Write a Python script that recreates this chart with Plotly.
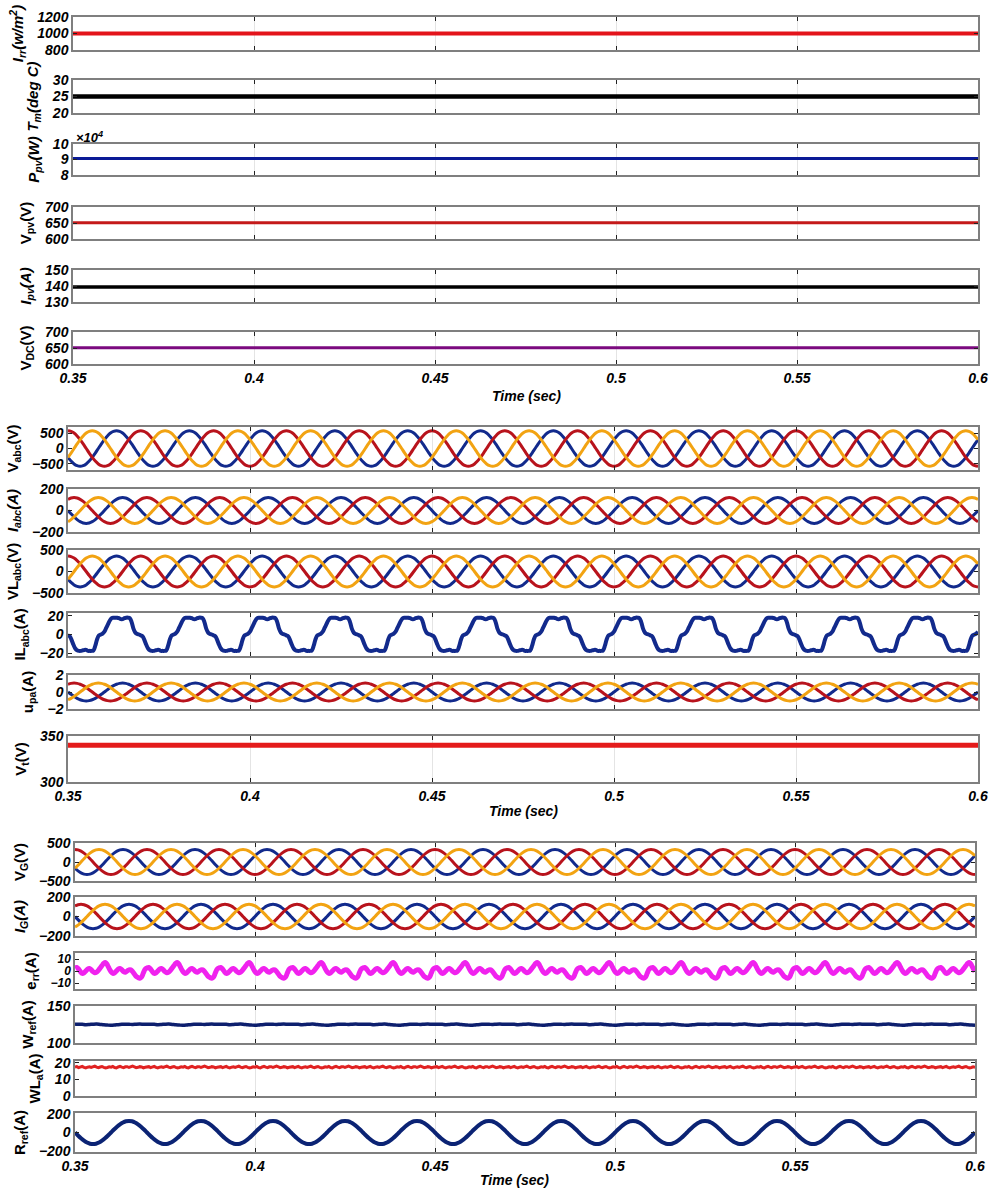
import plotly.graph_objects as go

W, H = 989, 1190
T_START, T_END = 0.35, 0.60
CYCLE_S = 0.02  # one 50 Hz cycle

TIME_TICKS = [0.35, 0.4, 0.45, 0.5, 0.55, 0.6]
TIME_TICK_TEXT = ['0.35', '0.4', '0.45', '0.5', '0.55', '0.6']

# ---------------- data ----------------
TIME_SPAN = [0.35, 0.60]
IRR_VALUES = [1000, 1000]
TM_VALUES = [25, 25]
PPV_VALUES = [90600, 90600]
VPV_VALUES = [651, 651]
IPV_VALUES = [139.3, 139.3]
VDC_VALUES = [651, 651]
VT_VALUES = [340, 340]

# one cycle of a unit sinusoid, 15-degree steps (shape of the 3-phase traces)
UNIT_CYCLE = [1.0, 0.966, 0.866, 0.707, 0.5, 0.259, 0.0, -0.259, -0.5, -0.707, -0.866, -0.966,
              -1.0, -0.966, -0.866, -0.707, -0.5, -0.259, 0.0, 0.259, 0.5, 0.707, 0.866, 0.966]

# amplitudes
V_ABC_AMP = 580
I_ABC_AMP = 120
VL_ABC_AMP = 360
U_PA_AMP = 1.05
V_G_AMP = 330
I_G_AMP = 125
R_REF_AMP = 125

# phase offsets (in 15-degree samples) of phases a (blue), b (red), c (orange)
V_PHASES = [8, 0, 16]
I_PHASES = [6, 22, 14]
R_REF_PHASE = 6

# one cycle of IL_abc, 0.5 ms steps
IL_CYCLE = [-1, -2, -6, -11, -15, -17, -17.5, -17.5, -17, -16.5, -16.5, -17.5, -17.5, -17.5, -17,
            -12, -5, -1, 0, 1, 3, 7, 11, 15, 17.5, 18, 18, 18, 17.5, 16.5, 16.5, 17.5, 18, 18,
            17.5, 13, 6, 2, 0.5, 0]

# one cycle of e_rr, 0.5 ms steps
ERR_CYCLE = [2.5, 3, 1.5, -0.5, -2, -1.5, 0, 1.5, 2, 1,
             -0.5, -1.5, -1, 0.5, 2.5, 4.5, 6.5, 7, 5, 2,
             -0.5, -2, -1.5, 0, 1.5, 2, 1, -0.5, -1, 0,
             1, 1, -0.5, -2.5, -4.5, -5.5, -6, -5, -1.5, 1.5]

# one cycle of W_ref, 1 ms steps
WREF_CYCLE = [125.3, 125.5, 125.2, 124.8, 125.0, 125.4, 125.6, 125.1, 124.6, 124.2,
              124.0, 124.3, 124.8, 125.2, 125.5, 125.3, 125.0, 125.4, 125.6, 125.4]

# one cycle of WL_a, 0.5 ms steps
WLA_CYCLE = [17.3, 17.6, 17.0, 17.4, 17.8, 17.2, 16.9, 17.3, 17.5, 17.1, 17.6, 17.9, 17.3, 17.0,
             17.4, 17.7, 17.2, 16.8, 17.1, 17.5, 17.3, 17.7, 17.1, 16.9, 17.4, 17.8, 17.3, 17.0,
             17.5, 17.6, 17.1, 17.4, 17.9, 17.5, 17.0, 17.2, 17.6, 17.4, 16.9, 17.2]

# ---------------- styles ----------------
FONT = 'Liberation Sans, Arial, sans-serif'
NAVY = '#122a8c'
DRED = '#b8131c'
ORANGE = '#f2a312'
PHASE_COLORS = [NAVY, DRED, ORANGE]


def tile(cycle, offset=0, scale=1.0):
    n = len(cycle)
    count = int(round((T_END - T_START) / CYCLE_S * n))
    t = [T_START + k * CYCLE_S / n for k in range(count + 1)]
    y = [scale * cycle[(k + offset) % n] for k in range(count + 1)]
    return t, y


def line(x, y, color, width, shape='linear'):
    return dict(x=x, y=y, color=color, width=width, shape=shape)


def three_phase(amp, phases, width=3):
    out = []
    for ph, col in zip(phases, PHASE_COLORS):
        t, y = tile(UNIT_CYCLE, ph, amp)
        out.append(line(t, y, col, width, 'spline'))
    return out


# panels: group, (top px, bottom px), y range, tick values, tick text, title, italic, tick size, traces
panels = [
    (0, (17, 50), [800, 1200], [800, 1000, 1200], None, 'I<sub>rr</sub>(w/m<sup>2</sup>)', True, 14,
     [line(TIME_SPAN, IRR_VALUES, '#e3141b', 4)]),
    (0, (80, 113), [20, 30], [20, 25, 30], None, 'T<sub>m</sub>(deg C)', True, 14,
     [line(TIME_SPAN, TM_VALUES, '#000000', 4.5)]),
    (0, (144, 175), [80000, 100000], [80000, 90000, 100000], ['8', '9', '10'], 'P<sub>pv</sub>(W)', True, 14,
     [line(TIME_SPAN, PPV_VALUES, '#0a1a96', 3)]),
    (0, (207, 239), [600, 700], [600, 650, 700], None, 'V<sub>pv</sub>(V)', False, 14,
     [line(TIME_SPAN, VPV_VALUES, '#c41a1a', 3)]),
    (0, (270, 302), [130, 150], [130, 140, 150], None, 'I<sub>pv</sub>(A)', True, 14,
     [line(TIME_SPAN, IPV_VALUES, '#000000', 3.5)]),
    (0, (332, 364), [600, 700], [600, 650, 700], None, 'V<sub>DC</sub>(V)', False, 14,
     [line(TIME_SPAN, VDC_VALUES, '#7b0a7f', 3)]),

    (1, (427, 470), [-700, 700], [-500, 0, 500], None, 'V<sub>abc</sub>(V)', False, 14,
     three_phase(V_ABC_AMP, V_PHASES)),
    (1, (489, 532), [-200, 200], [-200, 0, 200], None, 'I<sub>abc</sub>(A)', True, 14,
     three_phase(I_ABC_AMP, I_PHASES)),
    (1, (550, 593), [-500, 500], [-500, 0, 500], None, 'VL<sub>abc</sub>(V)', False, 14,
     three_phase(VL_ABC_AMP, V_PHASES)),
    (1, (613, 656), [-23, 23], [-20, 0, 20], None, 'IL<sub>abc</sub>(A)', False, 14,
     [line(*tile(IL_CYCLE), NAVY, 4, 'spline')]),
    (1, (675, 709), [-2, 2], [-2, 0, 2], None, 'u<sub>pa</sub>(A)', False, 14,
     three_phase(U_PA_AMP, I_PHASES)),
    (1, (736, 782), [300, 350], [300, 350], None, 'V<sub>t</sub>(V)', False, 14,
     [line(TIME_SPAN, VT_VALUES, '#e41b1b', 5)]),

    (2, (843, 881), [-500, 500], [-500, 0, 500], None, 'V<sub>G</sub>(V)', False, 14,
     three_phase(V_G_AMP, V_PHASES)),
    (2, (897, 936), [-200, 200], [-200, 0, 200], None, 'I<sub>G</sub>(A)', True, 14,
     three_phase(I_G_AMP, I_PHASES)),
    (2, (953, 989), [-15, 15], [-10, 0, 10], None, 'e<sub>rr</sub>(A)', False, 12,
     [line(*tile(ERR_CYCLE), '#f022ee', 5, 'spline')]),
    (2, (1006, 1043), [100, 150], [100, 150], None, 'W<sub>ref</sub>(A)', False, 14,
     [line(*tile(WREF_CYCLE), '#0d1f6e', 3.5, 'spline')]),
    (2, (1061, 1096), [0, 21], [0, 10, 20], None, 'WL<sub>a</sub>(A)', False, 14,
     [line(*tile(WLA_CYCLE), '#e02222', 3)]),
    (2, (1113, 1152), [-210, 210], [-200, 0, 200], None, 'R<sub>ref</sub>(A)', False, 14,
     [line(*tile(UNIT_CYCLE, R_REF_PHASE, R_REF_AMP), '#0b2374', 4, 'spline')]),
]

GROUP_X = [(73, 978), (68, 978), (75, 975)]
GROUP_BOTTOM = {0: 5, 1: 11, 2: 17}
TIME_LABEL_POS = [(526, 396), (523, 811), (514, 1180)]

fig = go.Figure()
layout = {}


def tfont(size=14):
    return dict(family=FONT, size=size, color='black', weight='bold', style='italic')


for i, (grp, (ytop, ybot), yr, yt, ytt, title, ital, tsize, traces) in enumerate(panels):
    n = i + 1
    xs = '' if n == 1 else str(n)
    x0, x1 = GROUP_X[grp]
    for tr in traces:
        fig.add_trace(go.Scatter(x=tr['x'], y=tr['y'], mode='lines',
                                 line=dict(color=tr['color'], width=tr['width'], shape=tr['shape']),
                                 xaxis='x' + xs, yaxis='y' + xs, showlegend=False, hoverinfo='skip'))
    is_bottom = GROUP_BOTTOM[grp] == i
    layout['xaxis' + xs] = dict(
        domain=[x0 / W, x1 / W], range=[T_START, T_END], anchor='y' + xs, automargin=False,
        tickvals=TIME_TICKS, ticktext=TIME_TICK_TEXT, showticklabels=is_bottom,
        ticks='inside', ticklen=4, tickcolor='#222', tickwidth=1,
        showline=True, linecolor='#7f7f7f', linewidth=1.5, mirror='ticks',
        showgrid=True, gridcolor='#e4e4e4', gridwidth=1, zeroline=False,
        tickfont=tfont(14), fixedrange=True)
    yax = dict(
        domain=[1 - ybot / H, 1 - ytop / H], range=yr, anchor='x' + xs, automargin=False,
        tickvals=yt, ticks='inside', ticklen=4, tickcolor='#222', tickwidth=1,
        showline=True, linecolor='#7f7f7f', linewidth=1.5, mirror='ticks',
        showgrid=False, zeroline=False, tickfont=tfont(tsize), fixedrange=True,
        title=dict(text=title, standoff=10,
                   font=dict(family=FONT, size=15, color='black', weight='bold',
                             style='italic' if ital else 'normal')))
    if ytt is not None:
        yax['ticktext'] = ytt
    layout['yaxis' + xs] = yax

annotations = []
for (px, py) in TIME_LABEL_POS:
    annotations.append(dict(x=px / W, y=1 - py / H, xref='paper', yref='paper',
                            text='Time (sec)', showarrow=False, xanchor='center', yanchor='middle',
                            font=tfont(14)))
annotations.append(dict(x=74 / W, y=1 - 137 / H, xref='paper', yref='paper',
                        text='\u00d710<sup>4</sup>', showarrow=False, xanchor='left', yanchor='middle',
                        font=tfont(13)))

fig.update_layout(width=W, height=H, margin=dict(l=0, r=0, t=0, b=0, autoexpand=False),
                  paper_bgcolor='white', plot_bgcolor='white',
                  annotations=annotations, **layout)

fig.write_html('out.html')
